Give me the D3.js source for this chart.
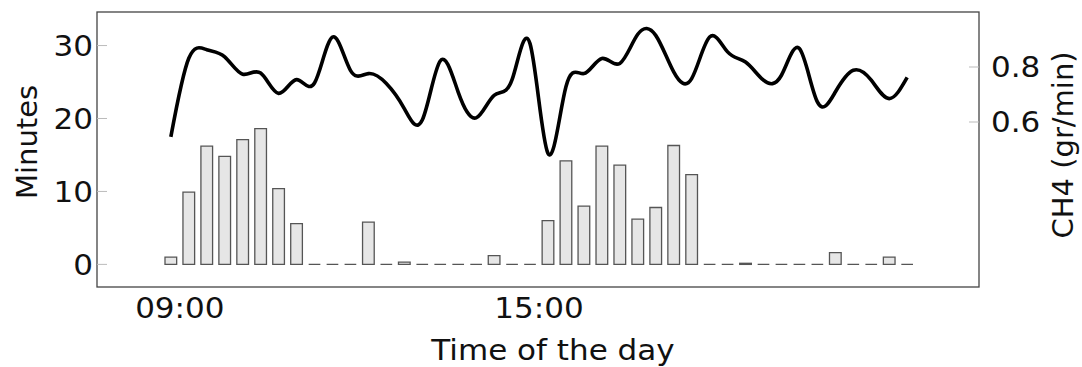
<!DOCTYPE html>
<html>
<head>
<meta charset="utf-8">
<script src="https://cdn.jsdelivr.net/npm/d3@7"></script>
<style>
  body { margin: 0; background: #fff; }
  svg text { font-family: "DejaVu Sans", sans-serif; fill: #111; }
</style>
</head>
<body>
<div id="chart"></div>
<script>
// bin centre times (18 min bins)
const times = ["08:51","09:09","09:27","09:45","10:03","10:21","10:39","10:57","11:15","11:33",
  "11:51","12:09","12:27","12:45","13:03","13:21","13:39","13:57","14:15","14:33",
  "14:51","15:09","15:27","15:45","16:03","16:21","16:39","16:57","17:15","17:33",
  "17:51","18:09","18:27","18:45","19:03","19:21","19:39","19:57","20:15","20:33",
  "20:51","21:09"];

// minutes per bin (bars, left axis)
const minutes = [1.0, 9.9, 16.2, 14.8, 17.1, 18.6, 10.4, 5.6, 0, 0,
  0, 5.8, 0, 0.3, 0, 0, 0, 0, 1.2, 0,
  0, 6.0, 14.2, 8.0, 16.2, 13.6, 6.2, 7.8, 16.3, 12.3,
  0, 0, 0.15, 0, 0, 0, 0, 1.6, 0, 0,
  1.0, 0];

// CH4 emission (line, right axis)
const ch4 = [0.546, 0.832, 0.863, 0.837, 0.774, 0.778, 0.704, 0.754, 0.742, 0.909,
  0.788, 0.776, 0.740, 0.649, 0.607, 0.822, 0.709, 0.615, 0.697, 0.754,
  0.885, 0.486, 0.728, 0.776, 0.831, 0.813, 0.919, 0.915, 0.782, 0.758,
  0.909, 0.855, 0.818, 0.752, 0.770, 0.867, 0.673, 0.709, 0.788, 0.752,
  0.685, 0.762];

const xRange = ["07:37", "22:21"];
const xTicks = ["09:00", "15:00"];
const leftTicks = [0, 10, 20, 30];
const rightTicks = [0.6, 0.8];

const width = 1082, height = 367;
const margin = {top: 12, right: 103, bottom: 80, left: 97};
const innerW = width - margin.left - margin.right;
const innerH = height - margin.top - margin.bottom;

const parse = d3.timeParse("%H:%M");
const data = times.map((t, i) => ({t: parse(t), m: minutes[i], c: ch4[i]}));

const x = d3.scaleTime().domain(xRange.map(parse)).range([0, innerW]);
const yL = d3.scaleLinear().domain([-3.1, 34.6]).range([innerH, 0]);
const yR = d3.scaleLinear().domain([0, 1.0]).range([innerH, 0]);

const svg = d3.select('#chart').append('svg')
  .attr('width', width)
  .attr('height', height);

const g = svg.append('g').attr('transform', `translate(${margin.left},${margin.top})`);

// bars (drawn as paths so zero bins show as a dash)
const step = x(data[1].t) - x(data[0].t);
const bw = step * 0.65;
g.selectAll('path.bar')
  .data(data)
  .join('path')
  .attr('class', 'bar')
  .attr('d', d => {
    const x0 = x(d.t) - bw / 2, x1 = x(d.t) + bw / 2;
    const y0 = yL(0), y1 = yL(d.m);
    return `M${x0},${y0}V${y1}H${x1}V${y0}Z`;
  })
  .attr('fill', '#e6e6e6')
  .attr('stroke', '#555')
  .attr('stroke-width', 1.3);

// CH4 line
const line = d3.line()
  .x(d => x(d.t))
  .y(d => yR(d.c))
  .curve(d3.curveNatural);
g.append('path')
  .datum(data)
  .attr('d', line)
  .attr('fill', 'none')
  .attr('stroke', '#000')
  .attr('stroke-width', 3.6)
  .attr('stroke-linejoin', 'round');

// frame
g.append('rect')
  .attr('width', innerW)
  .attr('height', innerH)
  .attr('fill', 'none')
  .attr('stroke', '#444')
  .attr('stroke-width', 1.3);

// text is a bit wider than plain DejaVu in the reference
const fs = 29, sx = 1.07;

// left axis: inner ticks
const la = g.append('g');
la.selectAll('line').data(leftTicks).join('line')
  .attr('x1', 0).attr('x2', 10)
  .attr('y1', d => yL(d)).attr('y2', d => yL(d))
  .attr('stroke', '#bbb').attr('stroke-width', 1);
la.selectAll('text').data(leftTicks).join('text')
  .attr('transform', d => `translate(-4,${yL(d)}) scale(${sx},1)`)
  .attr('text-anchor', 'end')
  .attr('dy', '0.36em')
  .attr('font-size', fs)
  .text(d => d);

// right axis
const ra = g.append('g');
ra.selectAll('line').data(rightTicks).join('line')
  .attr('x1', innerW - 10).attr('x2', innerW)
  .attr('y1', d => yR(d)).attr('y2', d => yR(d))
  .attr('stroke', '#bbb').attr('stroke-width', 1);
ra.selectAll('text').data(rightTicks).join('text')
  .attr('transform', d => `translate(${innerW + 12},${yR(d)}) scale(${sx},1)`)
  .attr('dy', '0.36em')
  .attr('font-size', fs)
  .text(d => d.toFixed(1));

// x axis labels
g.append('g').selectAll('text').data(xTicks).join('text')
  .attr('transform', d => `translate(${x(parse(d))},${innerH + 10}) scale(${sx},1)`)
  .attr('text-anchor', 'middle')
  .attr('dy', '0.72em')
  .attr('font-size', fs)
  .text(d => d);

svg.append('text')
  .attr('transform', `translate(553,350) scale(${sx},1)`)
  .attr('text-anchor', 'middle')
  .attr('dy', '0.36em')
  .attr('font-size', fs)
  .text('Time of the day');

svg.append('text')
  .attr('transform', 'translate(27,142) rotate(-90)')
  .attr('text-anchor', 'middle')
  .attr('dy', '0.36em')
  .attr('font-size', fs)
  .text('Minutes');

svg.append('text')
  .attr('transform', 'translate(1063,145) rotate(-90)')
  .attr('text-anchor', 'middle')
  .attr('dy', '0.36em')
  .attr('font-size', fs)
  .text('CH4 (gr/min)');
</script>
</body>
</html>
